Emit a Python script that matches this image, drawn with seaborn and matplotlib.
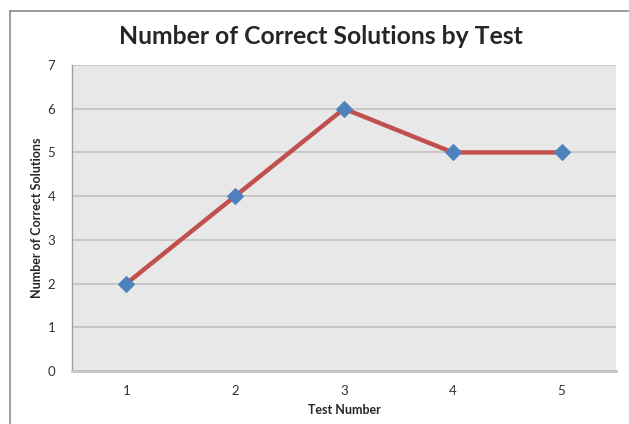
import matplotlib
matplotlib.use("Agg")
import matplotlib.pyplot as plt
import seaborn as sns
import pandas as pd
from matplotlib.lines import Line2D

# data
tests = ["1", "2", "3", "4", "5"]
correct = [2, 4, 6, 5, 5]

df = pd.DataFrame({"pos": range(len(tests)), "correct": correct})

sns.set_style("white")
plt.rcParams['font.family'] = ['Lato', 'DejaVu Sans']

fig = plt.figure(figsize=(6.29, 4.24), dpi=100)
ax = fig.add_axes([72/629, 53/424, 544/629, 306/424])
ax.set_facecolor("#e8e8e8")

sns.lineplot(data=df, x="pos", y="correct", ax=ax, color="#c0504d", linewidth=3.2,
             marker="D", markersize=8, markerfacecolor="#4f81bd",
             markeredgecolor="#4f81bd", zorder=3)

ax.set_xlim(-0.5, len(tests) - 0.5)
ax.set_ylim(0, 7)
ax.set_yticks(range(0, 8))
ax.grid(axis="y", color="#c4c4c4", linewidth=1.3, zorder=0)
ax.set_axisbelow(True)

# category labels in the middle, tick marks on the boundaries
ax.set_xticks(range(len(tests)))
ax.set_xticklabels(tests)
ax.set_xticks([i - 0.5 for i in range(len(tests) + 1)], minor=True)
ax.tick_params(axis="x", which="major", length=0, pad=10, labelsize=9.5, labelcolor="#333333")
ax.tick_params(axis="x", which="minor", length=4, color="#a0a0a0", direction="out")
ax.tick_params(axis="y", length=5, color="#a0a0a0", direction="out", labelsize=9.5,
               pad=7, labelcolor="#333333")

for s in ["top", "right"]:
    ax.spines[s].set_visible(False)
ax.spines["left"].set_color("#a0a0a0")
ax.spines["left"].set_linewidth(1)
ax.spines["bottom"].set_color("#c4c4c4")
ax.spines["bottom"].set_linewidth(2)

ax.set_xlabel("Test Number", fontsize=9, fontweight="bold", labelpad=5)
ax.set_ylabel("Number of Correct Solutions", fontsize=9, fontweight="bold",
              family=['Liberation Sans Narrow', 'Lato'], labelpad=3)
fig.text(321/629, 1 - 37/424, "Number of Correct Solutions by Test", ha="center",
         va="center", fontsize=17.8, fontweight="bold")

# outer chart border (top and left edges visible)
fig.add_artist(Line2D([10/629, 1], [1 - 11/424, 1 - 11/424], color="#8c8c8c", linewidth=1.2))
fig.add_artist(Line2D([10/629, 10/629], [0, 1 - 11/424], color="#8c8c8c", linewidth=1.2))

fig.savefig("out.png", dpi=100)
